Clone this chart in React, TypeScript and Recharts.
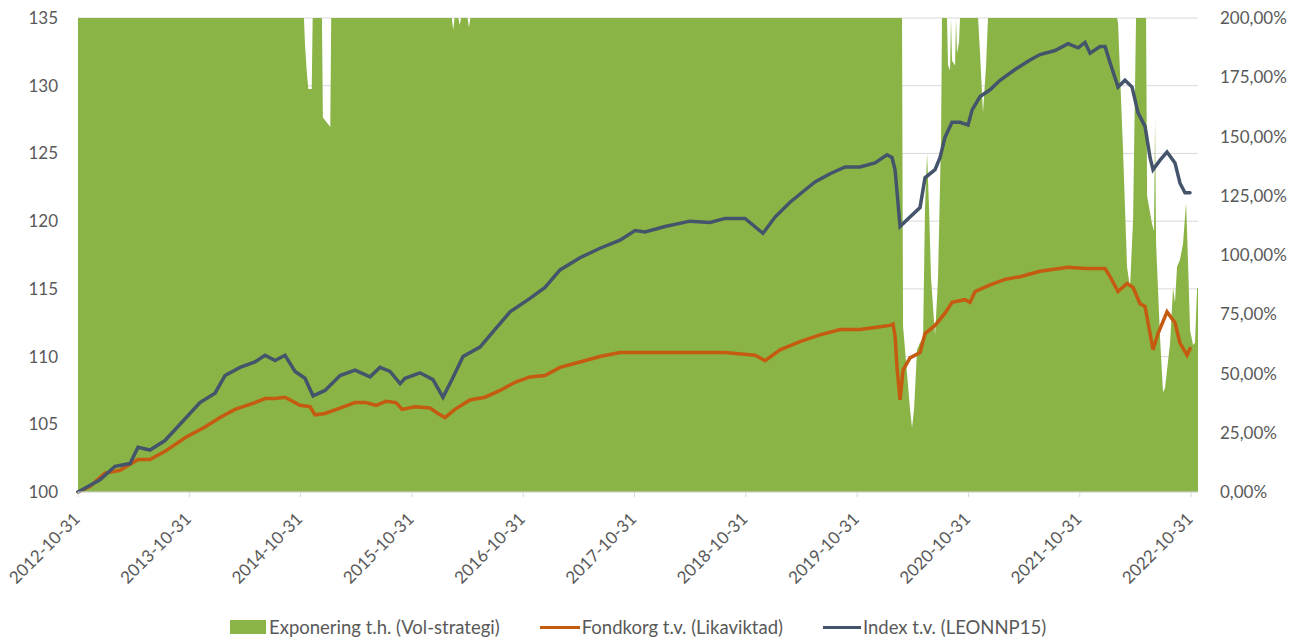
import { ComposedChart, Area, Line, XAxis, YAxis, CartesianGrid } from "recharts";

// x = months since 2012-10-31
const yearTicks = [0, 12, 24, 36, 48, 60, 72, 84, 96, 108, 120];
const yearLabels = [
  "2012-10-31", "2013-10-31", "2014-10-31", "2015-10-31", "2016-10-31", "2017-10-31",
  "2018-10-31", "2019-10-31", "2020-10-31", "2021-10-31", "2022-10-31",
];
const leftTicks = [100, 105, 110, 115, 120, 125, 130, 135];
const rightTicks = [0, 25, 50, 75, 100, 125, 150, 175, 200];

// Exponering t.h. (Vol-strategi), % (right axis)
const expoM = [
  0,
  24.36, 24.47, 24.65, 24.83, 25.2, 25.3,
  26.3, 26.4, 27.2, 27.3,
  40.3, 40.45, 40.6, 41.0, 41.15, 41.3, 42.0, 42.15, 42.3,
  88.84, 88.95, 89.38, 89.7, 89.92, 90.14, 90.46, 90.78, 91.11, 91.32, 91.54, 91.75, 91.97, 92.4, 92.72, 93.05, 93.15,
  93.69, 93.8, 94.02, 94.12, 94.23, 94.56, 94.66, 94.77, 94.99, 95.09,
  97.04, 97.25, 97.57, 97.9, 98.11,
  112.02, 112.13, 112.67, 113.1, 113.42, 113.75, 114.07,
  115.04, 115.15, 115.26, 115.8, 116.01, 116.12, 116.23, 116.66, 116.98, 117.2, 117.74, 118.06,
  118.27, 118.49, 118.81, 119.14, 119.46, 119.57, 119.9, 120.22, 120.43, 120.65, 120.75,
];
const expoV = [
  200,
  200, 189, 178, 170, 170, 200,
  200, 158, 154, 200,
  200, 195, 200, 200, 197, 200, 200, 196, 200,
  200, 70, 50, 35, 27, 35, 60, 63, 65, 120, 143, 120, 90, 66, 90, 150, 200,
  200, 180, 178, 200, 182, 180, 200, 185, 190, 200,
  200, 185, 160, 180, 200,
  200, 198, 144, 95, 86, 115, 200,
  200, 200, 125, 113, 110, 158, 105, 65, 42, 44, 63, 86,
  80, 95, 98, 105, 122, 110, 68, 62, 63, 86, 86,
];

// Fondkorg t.v. (Likaviktad)
const fondM = [
  0, 1.29, 2.91, 4.53, 6.47, 7.76, 9.38, 11.54, 13.69, 15.31,
  16.93, 19.08, 20.16, 21.24, 22.32, 23.94, 25.01, 25.55, 26.63, 28.25,
  29.87, 31.05, 32.13, 33.21, 34.29, 34.94, 36.33, 37.95, 38.81, 39.57,
  40.64, 42.26, 43.88, 45.5, 47.12, 48.73, 50.35, 51.97, 54.12, 56.28,
  58.44, 60.05, 64.91, 69.76, 72.99, 74.07, 75.69, 77.84, 80.0, 82.16,
  84.31, 86.47, 87.55, 87.87, 88.09, 88.3, 88.63, 88.95, 89.7, 90.78,
  91.32, 92.4, 93.48, 94.23, 95.63, 96.17, 96.71, 98.33, 99.95, 101.56,
  103.72, 106.74, 108.57, 110.73, 111.27, 112.13, 113.1, 113.75, 114.5, 115.04,
  115.58, 115.9, 116.44, 117.41, 118.27, 118.81, 119.57, 119.89,
];
const fondV = [
  100, 100.4, 101.4, 101.6, 102.4, 102.4, 103.0, 104.0, 104.8, 105.5,
  106.1, 106.6, 106.9, 106.9, 107.0, 106.4, 106.3, 105.7, 105.8, 106.2,
  106.6, 106.6, 106.4, 106.7, 106.6, 106.1, 106.3, 106.2, 105.8, 105.5,
  106.1, 106.8, 107.0, 107.5, 108.1, 108.5, 108.6, 109.2, 109.6, 110.0,
  110.3, 110.3, 110.3, 110.3, 110.1, 109.7, 110.5, 111.1, 111.6, 112.0,
  112.0, 112.2, 112.3, 112.4, 111.5, 109.2, 106.8, 109.0, 109.9, 110.3,
  111.7, 112.3, 113.2, 114.0, 114.2, 114.0, 114.8, 115.3, 115.7, 115.9,
  116.3, 116.6, 116.5, 116.5, 115.9, 114.8, 115.4, 115.1, 113.9, 113.7,
  111.7, 110.5, 111.7, 113.3, 112.5, 111.0, 110.1, 110.6,
];

// Index t.v. (LEONNP15)
const indexM = [
  0, 2.37, 3.99, 5.61, 6.47, 7.76, 9.38, 11.0, 13.15, 14.77,
  15.85, 17.47, 19.08, 20.16, 21.24, 22.32, 23.4, 24.47, 25.34, 26.63,
  28.25, 29.87, 31.48, 32.56, 33.64, 34.72, 35.26, 36.87, 38.27, 39.35,
  40.32, 41.51, 43.34, 44.96, 46.58, 48.73, 50.35, 51.97, 54.12, 56.28,
  58.44, 60.05, 61.13, 63.29, 65.98, 68.14, 69.76, 71.91, 73.85, 75.15,
  76.77, 78.38, 79.46, 81.08, 82.7, 84.31, 85.93, 87.22, 87.76, 88.09,
  88.63, 89.7, 90.78, 91.32, 92.4, 92.94, 93.48, 94.23, 95.09, 95.96,
  96.39, 97.25, 98.33, 99.41, 101.02, 102.64, 103.72, 105.34, 106.74, 107.82,
  108.57, 109.11, 110.19, 110.73, 111.27, 112.13, 112.88, 113.64, 114.29, 115.04,
  115.58, 115.9, 116.66, 117.41, 118.27, 118.81, 119.35, 119.89,
];
const indexV = [
  100, 100.9, 101.9, 102.1, 103.3, 103.1, 103.8, 105.0, 106.6, 107.3,
  108.6, 109.2, 109.6, 110.1, 109.7, 110.1, 108.9, 108.4, 107.1, 107.5,
  108.6, 109.0, 108.5, 109.2, 108.9, 108.0, 108.4, 108.8, 108.3, 107.0,
  108.3, 110.0, 110.7, 112.0, 113.3, 114.3, 115.1, 116.4, 117.3, 118.0,
  118.6, 119.3, 119.2, 119.6, 120.0, 119.9, 120.2, 120.2, 119.1, 120.3,
  121.4, 122.3, 122.9, 123.5, 124.0, 124.0, 124.3, 124.9, 124.7, 123.8,
  119.6, 120.3, 121.0, 123.2, 123.8, 124.7, 126.2, 127.3, 127.3, 127.1,
  128.2, 129.2, 129.7, 130.4, 131.2, 131.9, 132.3, 132.6, 133.1, 132.8,
  133.2, 132.4, 132.9, 132.9, 131.7, 129.9, 130.4, 129.9, 128.0, 127.0,
  124.7, 123.8, 124.5, 125.1, 124.3, 122.8, 122.1, 122.1,
];

const GREEN = "#8AB446";
const ORANGE = "#C55A11";
const BLUE = "#44546A";
const TEXT = "#595959";
const GRID = "#D9D9D9";
const FONT = "Lato, 'Open Sans', sans-serif";

function buildRows() {
  const expo = new Map(expoM.map((m, i) => [m, expoV[i]]));
  const fond = new Map(fondM.map((m, i) => [m, fondV[i]]));
  const idx = new Map(indexM.map((m, i) => [m, indexV[i]]));
  const keys = Array.from(new Set([...expoM, ...fondM, ...indexM])).sort((a, b) => a - b);
  return keys.map((m) => ({ m, expo: expo.get(m), fond: fond.get(m), index: idx.get(m) }));
}
const rows = buildRows();

const pct = (v: number) => v.toFixed(2).replace(".", ",") + "%";

function DateTick(props: any) {
  const { x, y, payload } = props;
  const i = yearTicks.indexOf(payload.value);
  const ax = x + 3;
  const ay = y + 21;
  return (
    <text
      x={ax}
      y={ay}
      transform={`rotate(-45 ${ax} ${ay})`}
      textAnchor="end"
      fill={TEXT}
      fontSize={17}
      fontFamily={FONT}
    >
      {yearLabels[i]}
    </text>
  );
}

function LegendRow() {
  const item = { display: "flex", alignItems: "center" } as const;
  return (
    <div
      style={{
        position: "absolute",
        left: 0,
        top: 615,
        width: 1302,
        display: "flex",
        justifyContent: "flex-start",
        gap: 40,
        fontFamily: FONT,
        fontSize: 18.5,
        color: TEXT,
        lineHeight: "24px",
        paddingLeft: 230,
        boxSizing: "border-box",
      }}
    >
      <div style={item}>
        <span style={{ width: 36, height: 14, background: GREEN, marginRight: 3 }} />
        Exponering t.h. (Vol-strategi)
      </div>
      <div style={item}>
        <span style={{ width: 40, height: 3, background: ORANGE, marginRight: 2 }} />
        Fondkorg t.v. (Likaviktad)
      </div>
      <div style={item}>
        <span style={{ width: 38, height: 3, background: BLUE, marginRight: 2 }} />
        Index t.v. (LEONNP15)
      </div>
    </div>
  );
}

export default function App() {
  return (
    <div style={{ position: "absolute", left: 0, top: 0, width: 1302, height: 639, background: "#fff" }}>
      <ComposedChart width={1302} height={639} data={rows} margin={{ top: 18, right: 0, bottom: 0, left: 0 }}>
        <CartesianGrid yAxisId="left" vertical={false} stroke={GRID} />
        <XAxis
          dataKey="m"
          type="number"
          domain={[0, 120.75]}
          ticks={yearTicks}
          interval={0}
          height={147}
          stroke={GRID}
          tickSize={5}
          tick={<DateTick />}
        />
        <YAxis
          yAxisId="left"
          orientation="left"
          domain={[100, 135]}
          ticks={leftTicks}
          width={78}
          axisLine={false}
          tickLine={false}
          tickMargin={14}
          tick={{ fill: TEXT, fontSize: 17, fontFamily: FONT }}
        />
        <YAxis
          yAxisId="right"
          orientation="right"
          domain={[0, 200]}
          ticks={rightTicks}
          width={104}
          axisLine={false}
          tickLine={false}
          tickMargin={16}
          tickFormatter={pct}
          tick={{ fill: TEXT, fontSize: 17, fontFamily: FONT }}
        />
        <Area
          yAxisId="right"
          type="linear"
          dataKey="expo"
          name="Exponering t.h. (Vol-strategi)"
          stroke="none"
          fill={GREEN}
          fillOpacity={1}
          connectNulls
          isAnimationActive={false}
        />
        <Line
          yAxisId="left"
          type="linear"
          dataKey="fond"
          name="Fondkorg t.v. (Likaviktad)"
          stroke={ORANGE}
          strokeWidth={3.5}
          strokeLinecap="round"
          dot={false}
          connectNulls
          isAnimationActive={false}
        />
        <Line
          yAxisId="left"
          type="linear"
          dataKey="index"
          name="Index t.v. (LEONNP15)"
          stroke={BLUE}
          strokeWidth={3.5}
          strokeLinecap="round"
          dot={false}
          connectNulls
          isAnimationActive={false}
        />
      </ComposedChart>
      <LegendRow />
    </div>
  );
}
